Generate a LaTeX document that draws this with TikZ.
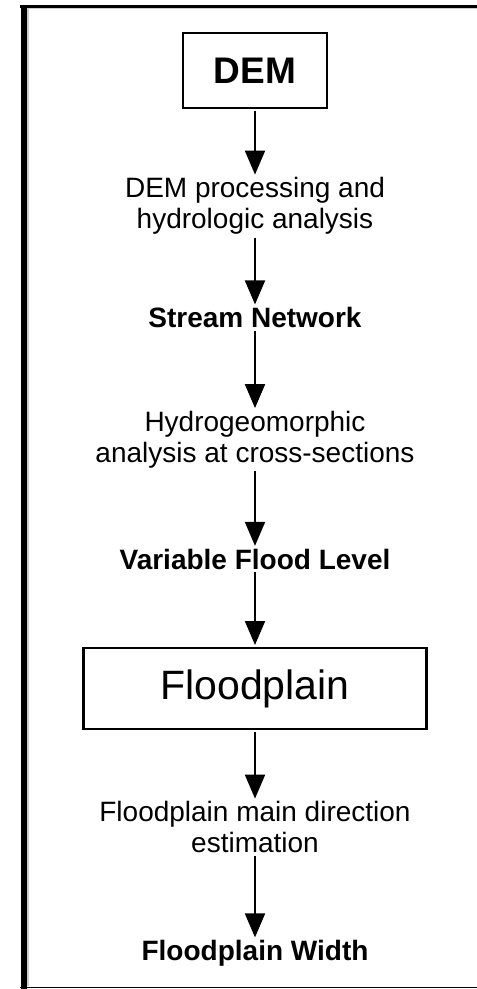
\documentclass[tikz,border=0pt]{standalone}
\usepackage{fontspec}
\setmainfont{Liberation Sans}
\usetikzlibrary{positioning,arrows.meta}

\begin{document}
\begin{tikzpicture}[x=1pt, y=1pt,
  nodes = {font=\fontsize{28}{31}\selectfont, inner sep=0pt,
    outer sep=0pt, align=center},
  dembox/.style = {draw, line width=2.5pt, minimum width=144pt,
    minimum height=75pt, font=\fontsize{37}{40}\selectfont\bfseries},
  mainbox/.style = {draw, line width=2.5pt, minimum width=343pt,
    minimum height=81pt, font=\fontsize{41}{44}\selectfont},
  result/.style = {font=\fontsize{28}{31}\selectfont\bfseries},
  arr/.style = {line width=2pt, -{Triangle[width=20pt,length=24pt]},
    shorten <=3pt, shorten >=3pt}
  ]
  \useasboundingbox (0,0) rectangle (477,-989);
  % frame, open on the right
  \draw [gray!40, line width=2.5pt] (27.5,-8) -- (27.5,-986);
  \draw [gray!40, line width=1pt] (26,-8.5) -- (477,-8.5);
  \draw [line width=3pt] (20,-6.5) -- (477,-6.5);
  \draw [line width=6pt] (23.5,-5) -- (23.5,-989);
  \draw [line width=1.5pt] (20,-987.5) -- (477,-987.5);

  \node (dem) [dembox] at (255,-70.5) {DEM};
  \node (proc) [below=69.6pt of dem] {DEM processing and\\hydrologic analysis};
  \node (stream) [result, below=72.7pt of proc] {Stream Network};
  \node (hydro) [below=83.1pt of stream] {Hydrogeomorphic\\analysis at cross-sections};
  \node (level) [result, below=80.7pt of hydro] {Variable Flood Level};
  \node (flood) [mainbox, below=78.6pt of level] {Floodplain};
  \node (dir) [below=72.6pt of flood] {Floodplain main direction\\estimation};
  \node (width) [result, below=87.2pt of dir] {Floodplain Width};

  \draw [arr] (dem) -- (proc);
  \draw [arr] (proc) -- (stream);
  \draw [arr] (stream) -- (hydro);
  \draw [arr] (hydro) -- (level);
  \draw [arr] (level) -- (flood);
  \draw [arr] (flood) -- (dir);
  \draw [arr] (dir) -- (width);
\end{tikzpicture}
\end{document}
